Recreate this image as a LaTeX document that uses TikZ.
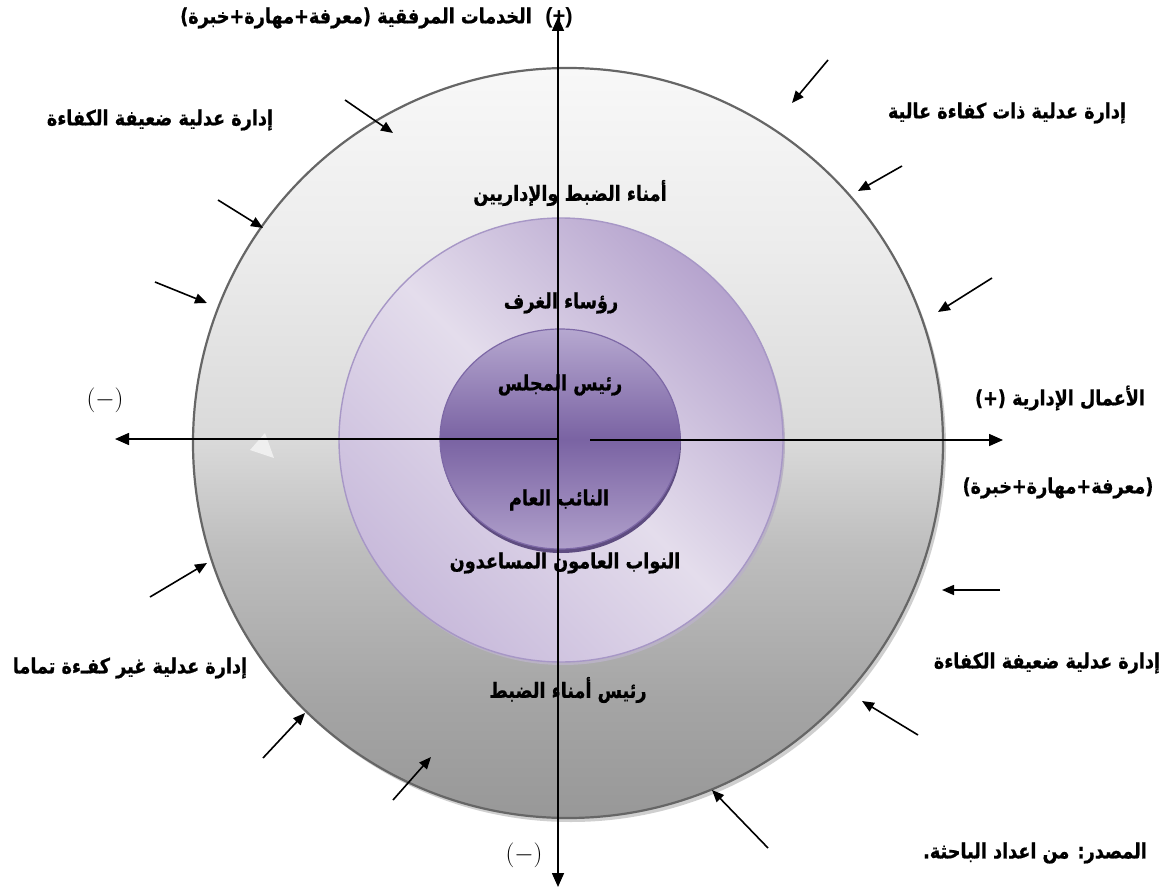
\documentclass[tikz,border=0pt]{standalone}
\usepackage{fontspec}
\usetikzlibrary{arrows.meta}
\TeXXeTstate=1
\newfontfamily\arabicfont[Script=Arabic, FakeStretch=0.84, FakeBold=0.8]{DejaVu Sans}
\newfontfamily\latinfont{Liberation Sans}

% greys of the outer disc, bottom to top
\definecolor{ogA}{HTML}{989898}
\definecolor{ogB}{HTML}{A5A5A5}
\definecolor{ogC}{HTML}{BEBEBE}
\definecolor{ogD}{HTML}{D9D9D9}
\definecolor{ogE}{HTML}{ECECEC}
\definecolor{ogF}{HTML}{F8F8F8}
\definecolor{rimgray}{HTML}{666666}
\definecolor{shadowgray}{HTML}{CFCFCF}
% purples of the ring and the core
\definecolor{ringdark}{HTML}{B6A4CE}
\definecolor{ringlight}{HTML}{E4DDEC}
\definecolor{ringlow}{HTML}{C8BADB}
\definecolor{ringedge}{HTML}{A797C6}
\definecolor{ringshadow}{HTML}{B9B2C4}
\definecolor{coretop}{HTML}{B6A8D0}
\definecolor{coremid}{HTML}{7A63A3}
\definecolor{corebot}{HTML}{B0A0CB}
\definecolor{coreedge}{HTML}{7D68A6}
\definecolor{coreshadow}{HTML}{5E4C80}
\definecolor{glint}{HTML}{EFEFEF}

\pgfdeclareverticalshading{outerdisc}{100bp}{%
  color(0bp)=(ogA); color(25bp)=(ogA); color(33bp)=(ogB);
  color(43bp)=(ogC); color(50bp)=(ogD); color(63bp)=(ogE);
  color(75bp)=(ogF); color(100bp)=(ogF)}

\tikzset{
  arlabel/.style={font=\arabicfont\bfseries\fontsize{21}{24}\selectfont, inner sep=0pt},
  signlabel/.style={font=\latinfont\bfseries\fontsize{22}{24}\selectfont, inner sep=0pt},
  minuslabel/.style={font=\fontsize{26}{28}\selectfont, inner sep=0pt},
  axisline/.style={line width=1.6pt, -{Triangle[length=14pt,width=12pt]}},
  pointer/.style={line width=1.6pt, -{Triangle[length=12pt,width=10pt]}},
}

\begin{document}
\begin{tikzpicture}[x=1pt,y=-1pt]
\useasboundingbox (0,0) rectangle (1170,888);

% outer disc with its drop shadow
\fill[shadowgray] (571,447) circle[radius=375pt];
\path[shading=outerdisc] (568,443) circle[radius=375pt];
\draw[rimgray, line width=2.2pt] (568,443) circle[radius=375pt];

% middle ring
\fill[ringshadow] (563,443) circle[radius=222pt];
\path[top color=ringdark, bottom color=ringlow, middle color=ringlight, shading angle=-45]
  (561,440) circle[radius=222pt];
\draw[ringedge, line width=1.4pt] (561,440) circle[radius=222pt];

% core
\fill[coreshadow] (561,443) ellipse[x radius=120pt, y radius=110pt];
\path[top color=coretop, bottom color=corebot, middle color=coremid]
  (560,439) ellipse[x radius=120pt, y radius=110pt];
\draw[coreedge, line width=1.2pt] (560,439) ellipse[x radius=120pt, y radius=110pt];

% small light glint on the outer disc
\fill[glint] (250,450) -- (265,433) -- (274,458) -- cycle;

% axes
\coordinate (O) at (558,439);
\coordinate (Oright) at (590,440);
\coordinate (axtop) at (558,17);
\coordinate (axbottom) at (558,887);
\coordinate (axleft) at (115,439);
\coordinate (axright) at (1003,440);
\draw[axisline] (O) -- (axtop);
\draw[axisline] (O) -- (axbottom);
\draw[axisline] (O) -- (axleft);
\draw[axisline] (Oright) -- (axright);

% pointers toward the disc
\coordinate (p1s) at (345,100);  \coordinate (p1e) at (393,133);
\coordinate (p2s) at (828,60);   \coordinate (p2e) at (792,103);
\coordinate (p3s) at (902,166);  \coordinate (p3e) at (858,191);
\coordinate (p4s) at (992,278);  \coordinate (p4e) at (938,312);
\coordinate (p5s) at (1000,590); \coordinate (p5e) at (942,590);
\coordinate (p6s) at (918,735);  \coordinate (p6e) at (862,701);
\coordinate (p7s) at (768,848);  \coordinate (p7e) at (712,790);
\coordinate (p8s) at (393,800);  \coordinate (p8e) at (431,757);
\coordinate (p9s) at (263,758);  \coordinate (p9e) at (305,713);
\coordinate (p10s) at (150,597); \coordinate (p10e) at (207,563);
\coordinate (p11s) at (155,282); \coordinate (p11e) at (207,303);
\coordinate (p12s) at (218,200); \coordinate (p12e) at (263,228);
\foreach \i in {1,...,12} \draw[pointer] (p\i s) -- (p\i e);

% labels
\node[arlabel, anchor=east] (services) at (532,18) {\beginR الخدمات المرفقية (معرفة+مهارة+خبرة)\endR};
\node[signlabel] (plustop) at (559,18) {(+)};
\node[arlabel] (weakTL) at (160,120) {\beginR إدارة عدلية ضعيفة الكفاءة\endR};
\node[arlabel] (highTR) at (1007,113) {\beginR إدارة عدلية ذات كفاءة عالية\endR};
\node[arlabel] (clerks) at (570,193) {\beginR أمناء الضبط والإداريين\endR};
\node[arlabel] (chambers) at (561,303) {\beginR رؤساء الغرف\endR};
\node[arlabel] (president) at (560,385) {\beginR رئيس المجلس\endR};
\node[arlabel] (prosecutor) at (559,500) {\beginR النائب العام\endR};
\node[arlabel] (deputies) at (565,563) {\beginR النواب العامون المساعدون\endR};
\node[arlabel] (chiefclerk) at (568,690) {\beginR رئيس أمناء الضبط\endR};
\node[minuslabel] (minusbottom) at (524,855) {$(-)$};
\node[minuslabel] (minusleft) at (105,400) {$(-)$};
\node[arlabel] (admin) at (1060,398) {\beginR الأعمال الإدارية (+)\endR};
\node[arlabel] (admin2) at (1058,488) {\beginR (معرفة+مهارة+خبرة)\endR};
\node[arlabel] (notatall) at (130,668) {\beginR إدارة عدلية غير كفـءة تماما\endR};
\node[arlabel] (weakBR) at (1047,663) {\beginR إدارة عدلية ضعيفة الكفاءة\endR};
\node[arlabel] (source) at (1035,853) {\beginR المصدر: من اعداد الباحثة.\endR};
\end{tikzpicture}
\end{document}
